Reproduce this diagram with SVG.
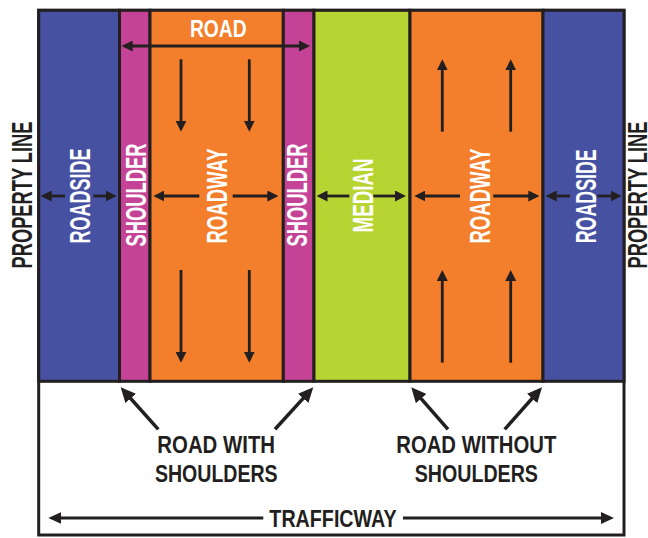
<svg xmlns="http://www.w3.org/2000/svg" width="648" height="538" viewBox="0 0 648 538">
<style>
.col{stroke:#231f20;stroke-width:3}
.rs{fill:#4651a2}
.sh{fill:#c54396}
.rw{fill:#f37e2b}
.md{fill:#b8d432}
.t{font-family:"Liberation Sans Narrow","Liberation Sans","DejaVu Sans Condensed",sans-serif;font-weight:bold;text-anchor:middle}
.w{fill:#ffffff;font-size:29px}
.k{fill:#231f20}
.a{stroke:#231f20;stroke-width:2.8;fill:none}
.aL{stroke:#231f20;stroke-width:3.5;fill:none}
</style>
<defs>
<marker id="ah" markerUnits="userSpaceOnUse" markerWidth="11" markerHeight="11" refX="3" refY="5.5" orient="auto-start-reverse"><path d="M0,0 L11,5.5 L0,11 z" fill="#231f20"/></marker>
<marker id="ahM" markerUnits="userSpaceOnUse" markerWidth="13" markerHeight="12" refX="3" refY="6" orient="auto-start-reverse"><path d="M0,0 L13,6 L0,12 z" fill="#231f20"/></marker>
<marker id="ahL" markerUnits="userSpaceOnUse" markerWidth="15" markerHeight="14" refX="4" refY="7" orient="auto-start-reverse"><path d="M0,0 L15,7 L0,14 z" fill="#231f20"/></marker>
</defs>
<g id="trafficway-frame">
<rect x="38.7" y="10.3" width="585.3" height="524.7" fill="#ffffff" class="col"/>
</g>
<g id="roadside-left">
<rect x="38.7" y="10.3" width="80.8" height="371" class="col rs"/>
<text class="t w" transform="translate(90,196) rotate(-90)" textLength="95" lengthAdjust="spacingAndGlyphs">ROADSIDE</text>
</g>
<g id="shoulder-left">
<rect x="119.5" y="10.3" width="30.5" height="371" class="col sh"/>
<text class="t w" transform="translate(145.7,195) rotate(-90)" textLength="103" lengthAdjust="spacingAndGlyphs">SHOULDER</text>
</g>
<g id="roadway-left">
<rect x="150" y="10.3" width="133.3" height="371" class="col rw"/>
<text class="t w" transform="translate(227.3,196) rotate(-90)" textLength="95" lengthAdjust="spacingAndGlyphs">ROADWAY</text>
</g>
<g id="shoulder-right">
<rect x="283.3" y="10.3" width="30.7" height="371" class="col sh"/>
<text class="t w" transform="translate(306.7,195) rotate(-90)" textLength="103" lengthAdjust="spacingAndGlyphs">SHOULDER</text>
</g>
<g id="median">
<rect x="314" y="10.3" width="96" height="371" class="col md"/>
<text class="t w" transform="translate(372.7,195.5) rotate(-90)" textLength="74" lengthAdjust="spacingAndGlyphs">MEDIAN</text>
</g>
<g id="roadway-right">
<rect x="410" y="10.3" width="133" height="371" class="col rw"/>
<text class="t w" transform="translate(490,196) rotate(-90)" textLength="95" lengthAdjust="spacingAndGlyphs">ROADWAY</text>
</g>
<g id="roadside-right">
<rect x="543" y="10.3" width="81" height="371" class="col rs"/>
<text class="t w" transform="translate(596,196.3) rotate(-90)" textLength="94" lengthAdjust="spacingAndGlyphs">ROADSIDE</text>
</g>
<g id="property-line-left">
<text class="t k" font-size="29" transform="translate(31.7,195) rotate(-90)" textLength="147" lengthAdjust="spacingAndGlyphs">PROPERTY LINE</text>
</g>
<g id="property-line-right">
<text class="t k" font-size="28" transform="translate(646.5,195) rotate(-90)" textLength="147" lengthAdjust="spacingAndGlyphs">PROPERTY LINE</text>
</g>
<g id="road-label">
<text class="t" fill="#ffffff" font-size="24.5" x="218.3" y="37.3" textLength="56.7" lengthAdjust="spacingAndGlyphs">ROAD</text>
</g>
<g id="road-with-shoulders">
<text class="t k" font-size="23.5" x="216.2" y="453.3" textLength="117.7" lengthAdjust="spacingAndGlyphs">ROAD WITH</text>
<text class="t k" font-size="23.5" x="216.3" y="481.7" textLength="122.7" lengthAdjust="spacingAndGlyphs">SHOULDERS</text>
</g>
<g id="road-without-shoulders">
<text class="t k" font-size="23.5" x="476.3" y="453.3" textLength="160" lengthAdjust="spacingAndGlyphs">ROAD WITHOUT</text>
<text class="t k" font-size="23.5" x="476.3" y="481.7" textLength="123.3" lengthAdjust="spacingAndGlyphs">SHOULDERS</text>
</g>
<g id="trafficway">
<text class="t k" font-size="23" x="333" y="527.3" textLength="127.3" lengthAdjust="spacingAndGlyphs">TRAFFICWAY</text>
</g>
<g id="connectors">
<line class="a" x1="129.7" y1="46" x2="302" y2="46" marker-start="url(#ah)" marker-end="url(#ah)"/>
<line class="a" x1="65" y1="196" x2="48.7" y2="196" marker-end="url(#ah)"/>
<line class="a" x1="93.3" y1="196" x2="108.7" y2="196" marker-end="url(#ah)"/>
<line class="a" x1="199.3" y1="196" x2="161.3" y2="196" marker-end="url(#ah)"/>
<line class="a" x1="232.7" y1="196" x2="270.3" y2="196" marker-end="url(#ah)"/>
<line class="a" x1="349.3" y1="196" x2="324.5" y2="196" marker-end="url(#ah)"/>
<line class="a" x1="373.3" y1="196" x2="398" y2="196" marker-end="url(#ah)"/>
<line class="a" x1="460" y1="196" x2="422.3" y2="196" marker-end="url(#ah)"/>
<line class="a" x1="493.3" y1="196" x2="531.3" y2="196" marker-end="url(#ah)"/>
<line class="a" x1="570" y1="196" x2="553.7" y2="196" marker-end="url(#ah)"/>
<line class="a" x1="597.3" y1="196" x2="613.7" y2="196" marker-end="url(#ah)"/>
<line class="a" x1="181" y1="59.3" x2="181" y2="123.7" marker-end="url(#ah)"/>
<line class="a" x1="249.3" y1="59.3" x2="249.3" y2="123.7" marker-end="url(#ah)"/>
<line class="a" x1="181" y1="270" x2="181" y2="354.7" marker-end="url(#ah)"/>
<line class="a" x1="249.3" y1="270" x2="249.3" y2="354.7" marker-end="url(#ah)"/>
<line class="a" x1="442.3" y1="131.7" x2="442.3" y2="67.3" marker-end="url(#ah)"/>
<line class="a" x1="510.7" y1="131.7" x2="510.7" y2="67.3" marker-end="url(#ah)"/>
<line class="a" x1="442.3" y1="362.7" x2="442.3" y2="278" marker-end="url(#ah)"/>
<line class="a" x1="510.7" y1="362.7" x2="510.7" y2="278" marker-end="url(#ah)"/>
<line class="aL" x1="158.3" y1="429.3" x2="128" y2="395.5" marker-end="url(#ahL)"/>
<line class="aL" x1="275" y1="429.3" x2="305.9" y2="395.4" marker-end="url(#ahL)"/>
<line class="aL" x1="448" y1="429.3" x2="418.5" y2="395.6" marker-end="url(#ahL)"/>
<line class="aL" x1="504.7" y1="429.3" x2="534.7" y2="395.5" marker-end="url(#ahL)"/>
<line class="a" stroke-width="3" x1="263.3" y1="518" x2="58.3" y2="518" marker-end="url(#ahM)"/>
<line class="a" stroke-width="3" x1="403" y1="518" x2="604" y2="518" marker-end="url(#ahM)"/>
</g>
</svg>
